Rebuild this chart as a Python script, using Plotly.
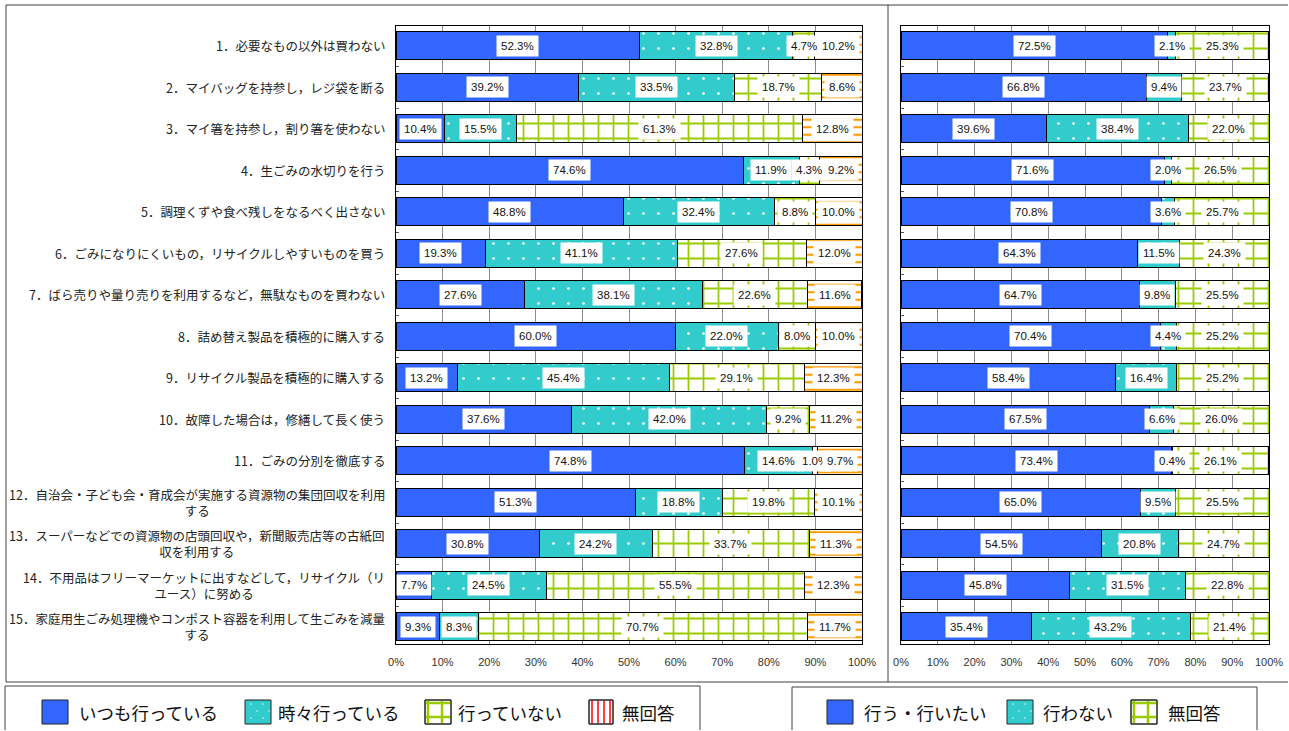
import plotly.graph_objects as go

W, H = 1289, 731

def px(x):
    return x / W

def py(y):
    return 1 - y / H

categories = [
    "1．必要なもの以外は買わない",
    "2．マイバッグを持参し，レジ袋を断る",
    "3．マイ箸を持参し，割り箸を使わない",
    "4．生ごみの水切りを行う",
    "5．調理くずや食べ残しをなるべく出さない",
    "6．ごみになりにくいもの，リサイクルしやすいものを買う",
    "7．ばら売りや量り売りを利用するなど，無駄なものを買わない",
    "8．詰め替え製品を積極的に購入する",
    "9．リサイクル製品を積極的に購入する",
    "10．故障した場合は，修繕して長く使う",
    "11．ごみの分別を徹底する",
    "12．自治会・子ども会・育成会が実施する資源物の集団回収を利用<br>する",
    "13．スーパーなどでの資源物の店頭回収や，新聞販売店等の古紙回<br>収を利用する",
    "14．不用品はフリーマーケットに出すなどして，リサイクル（リ<br>ユース）に努める",
    "15．家庭用生ごみ処理機やコンポスト容器を利用して生ごみを減量<br>する",
]

left_names = ["いつも行っている", "時々行っている", "行っていない", "無回答"]
left_always = [52.3, 39.2, 10.4, 74.6, 48.8, 19.3, 27.6, 60.0, 13.2, 37.6, 74.8, 51.3, 30.8, 7.7, 9.3]
left_sometimes = [32.8, 33.5, 15.5, 11.9, 32.4, 41.1, 38.1, 22.0, 45.4, 42.0, 14.6, 18.8, 24.2, 24.5, 8.3]
left_never = [4.7, 18.7, 61.3, 4.3, 8.8, 27.6, 22.6, 8.0, 29.1, 9.2, 1.0, 19.8, 33.7, 55.5, 70.7]
left_na = [10.2, 8.6, 12.8, 9.2, 10.0, 12.0, 11.6, 10.0, 12.3, 11.2, 9.7, 10.1, 11.3, 12.3, 11.7]

right_names = ["行う・行いたい", "行わない", "無回答"]
right_do = [72.5, 66.8, 39.6, 71.6, 70.8, 64.3, 64.7, 70.4, 58.4, 67.5, 73.4, 65.0, 54.5, 45.8, 35.4]
right_dont = [2.1, 9.4, 38.4, 2.0, 3.6, 11.5, 9.8, 4.4, 16.4, 6.6, 0.4, 9.5, 20.8, 31.5, 43.2]
right_na = [25.3, 23.7, 22.0, 26.5, 25.7, 24.3, 25.5, 25.2, 25.2, 26.0, 26.1, 25.5, 24.7, 22.8, 21.4]

tick_vals = [0, 10, 20, 30, 40, 50, 60, 70, 80, 90, 100]
tick_text = ["0%", "10%", "20%", "30%", "40%", "50%", "60%", "70%", "80%", "90%", "100%"]

BLUE = "#3366FF"
TEAL = "#33CCCC"
GREEN = "#99CC00"
ORANGE = "#FF9900"
RED = "#FF0000"
JP = "Noto Sans CJK JP"
NUMF = "Liberation Sans"

styles = {
    "blue": dict(color=BLUE),
    "dots": dict(color=TEAL, pattern=dict(shape=".", fgcolor="white", bgcolor=TEAL,
                                           size=15, solidity=0.025, fillmode="replace")),
    "grid": dict(color="white", pattern=dict(shape="+", fgcolor=GREEN, bgcolor="white",
                                              size=15, solidity=0.22, fillmode="replace")),
    "dash": dict(color="white", pattern=dict(shape="-", fgcolor=ORANGE, bgcolor="white",
                                              size=7.5, solidity=0.28, fillmode="replace")),
}

ypos = list(range(len(categories)))
fig = go.Figure()

left_series = [left_always, left_sometimes, left_never, left_na]
left_styles = ["blue", "dots", "grid", "dash"]
right_series = [right_do, right_dont, right_na]
right_styles = ["blue", "dots", "grid"]

for name, vals, st in zip(left_names, left_series, left_styles):
    m = dict(styles[st])
    m["line"] = dict(color="#000000", width=1)
    fig.add_trace(go.Bar(x=vals, y=ypos, orientation="h", name=name, marker=m,
                         width=0.675, xaxis="x", yaxis="y", showlegend=False,
                         hoverinfo="skip"))
for name, vals, st in zip(right_names, right_series, right_styles):
    m = dict(styles[st])
    m["line"] = dict(color="#000000", width=1)
    fig.add_trace(go.Bar(x=vals, y=ypos, orientation="h", name=name, marker=m,
                         width=0.675, xaxis="x2", yaxis="y2", showlegend=False,
                         hoverinfo="skip"))

annotations = []

def add_value_labels(series, xref, yref):
    for i in ypos:
        start = 0.0
        for s in series:
            v = s[i]
            annotations.append(dict(
                x=start + v / 2, y=i, xref=xref, yref=yref, text=f"{v:.1f}%",
                showarrow=False, bgcolor="white", borderpad=4,
                font=dict(family=NUMF, size=11.5, color="#111111")))
            start += v

add_value_labels(left_series, "x", "y")
add_value_labels(right_series, "x2", "y2")

for i, c in enumerate(categories):
    annotations.append(dict(
        x=px(387), y=i, xref="paper", yref="y", text=c, xanchor="right",
        align="center", showarrow=False,
        font=dict(family=JP, size=12.5, color="#222222")))

legend_texts = [
    (77, "いつも行っている"), (276, "時々行っている"), (456, "行っていない"), (620, "無回答"),
    (862, "行う・行いたい"), (1041, "行わない"), (1166, "無回答"),
]
for x, t in legend_texts:
    annotations.append(dict(x=px(x), y=py(712), xref="paper", yref="paper", text=t,
                            xanchor="left", yanchor="middle", showarrow=False,
                            font=dict(family=JP, size=17.5, color="#111111")))

shapes = []
LC = "#404040"

def ln(x0, y0, x1, y1, color, w):
    shapes.append(dict(type="line", xref="paper", yref="paper", x0=px(x0), x1=px(x1),
                       y0=py(y0), y1=py(y1), line=dict(color=color, width=w)))

# outer frame (open on the right, as in the reference) and divider
ln(6, 5, 1288, 5, LC, 1)
ln(6, 5, 6, 682, LC, 1)
ln(6, 682, 1288, 682, LC, 1)
ln(888, 5, 888, 682, LC, 1)
# legend boxes (open at the bottom edge of the picture)
ln(5, 686, 700, 686, LC, 1)
ln(5, 686, 5, 730, LC, 1)
ln(700, 686, 700, 730, LC, 1)
ln(792, 687, 1257, 687, LC, 1)
ln(792, 687, 792, 730, LC, 1)
ln(1257, 687, 1257, 730, LC, 1)

def sq(x0, x1, fill):
    shapes.append(dict(type="rect", xref="paper", yref="paper", x0=px(x0), x1=px(x1),
                       y0=py(724), y1=py(700), fillcolor=fill,
                       line=dict(color="#222222", width=1)))

def dots(x0, x1):
    for (dx, dy) in [(6, 4), (18, 4), (12, 11), (24, 11), (6, 18), (18, 18)]:
        cx, cy = x0 + dx, 700 + dy
        if cx < x1 - 1:
            shapes.append(dict(type="circle", xref="paper", yref="paper",
                               x0=px(cx - 0.7), x1=px(cx + 0.7), y0=py(cy + 0.7),
                               y1=py(cy - 0.7), fillcolor="white", line=dict(width=0)))

def gridsq(x0, x1):
    sq(x0, x1, "white")
    ln(x0 + 3, 700.5, x0 + 3, 723.5, GREEN, 2.5)
    ln(x0 + 17, 700.5, x0 + 17, 723.5, GREEN, 2.5)
    ln(x0 + 0.5, 703, x1 - 0.5, 703, GREEN, 2.5)
    ln(x0 + 0.5, 717, x1 - 0.5, 717, GREEN, 2.5)
    sq(x0, x1, "rgba(0,0,0,0)")

sq(42, 68, BLUE)
sq(245, 271, TEAL)
dots(245, 271)
gridsq(425, 451)
sq(589, 613, "white")
for xx in [592, 598, 604, 610]:
    ln(xx, 700.5, xx, 723.5, RED, 1.5)
sq(589, 613, "rgba(0,0,0,0)")

sq(827, 853, BLUE)
sq(1007, 1033, TEAL)
dots(1007, 1033)
gridsq(1131, 1157)

common_x = dict(range=[0, 100], tickvals=tick_vals, ticktext=tick_text, showgrid=True,
                gridcolor="#8c8c8c", gridwidth=1, zeroline=False, showline=True,
                mirror=True, linecolor="#000000", linewidth=1, ticks="",
                ticklabelstandoff=8,
                tickfont=dict(family=NUMF, size=11, color="#333333"), fixedrange=True)
common_y = dict(range=[14.41, -0.48], showticklabels=False, showgrid=False,
                zeroline=False, showline=True, mirror=True, linecolor="#000000",
                linewidth=1, tickvals=[i + 0.5 for i in range(14)], ticks="inside",
                ticklen=3, tickcolor="#555555", fixedrange=True,
                domain=[py(644), py(26)])

fig.update_layout(
    width=W, height=H, margin=dict(l=0, r=0, t=0, b=0, autoexpand=False),
    paper_bgcolor="white", plot_bgcolor="white",
    barmode="stack", bargap=0.3, showlegend=False,
    xaxis=dict(domain=[px(396), px(862)], anchor="y", **common_x),
    yaxis=dict(anchor="x", **common_y),
    xaxis2=dict(domain=[px(901), px(1269)], anchor="y2", **common_x),
    yaxis2=dict(anchor="x2", **common_y),
    annotations=annotations, shapes=shapes,
)

post = (
    "document.documentElement.style.margin='0';"
    "document.documentElement.style.overflow='hidden';"
    "document.body.style.margin='0';document.body.style.padding='0';"
    "document.body.style.overflow='hidden';"
    "var gd=document.getElementById('{plot_id}');"
    "gd.style.position='fixed';gd.style.left='0px';gd.style.top='0px';"
    "gd.style.overflow='hidden';"
)

fig.write_html("out.html", config={"displayModeBar": False}, post_script=post)
